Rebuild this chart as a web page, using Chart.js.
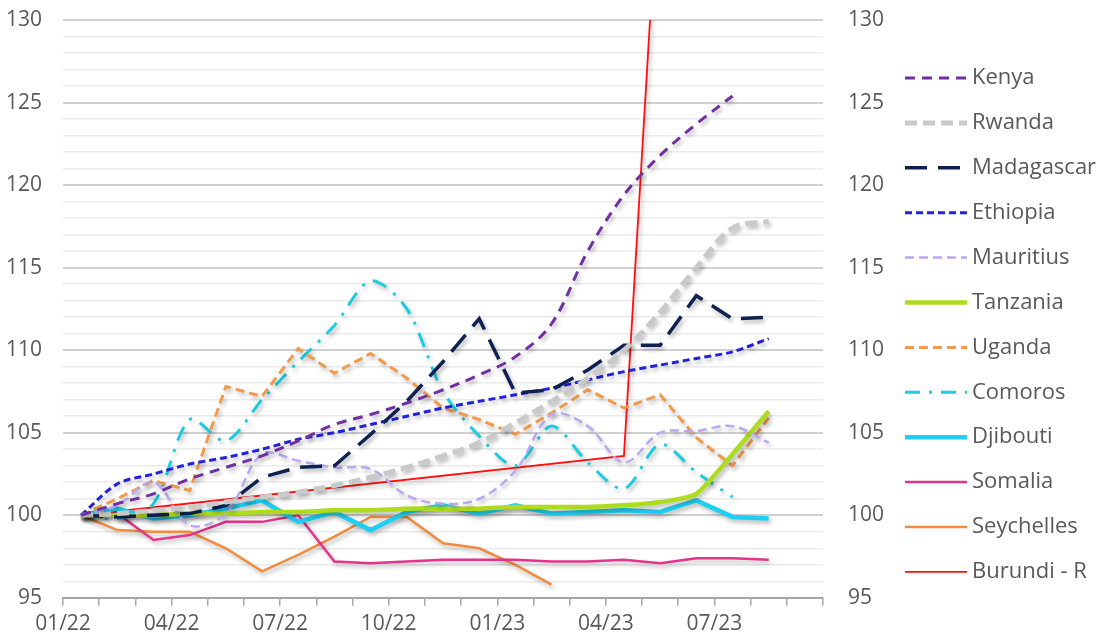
<!DOCTYPE html>
<html>
<head>
<meta charset="utf-8">
<script src="https://cdn.jsdelivr.net/npm/chart.js@4.4.0/dist/chart.umd.min.js"></script>
<style>
  html, body { margin: 0; padding: 0; background: #fff; }
  #wrap { width: 1099px; height: 641px; }
</style>
</head>
<body>
<div id="wrap"><canvas id="cpiChart"></canvas></div>
<script>
// Months (one point per month, drawn mid-month)
const months = ['01/22','02/22','03/22','04/22','05/22','06/22','07/22','08/22','09/22','10/22','11/22','12/22',
                '01/23','02/23','03/23','04/23','05/23','06/23','07/23','08/23','09/23'];
const tickLabels = ['01/22','04/22','07/22','10/22','01/23','04/23','07/23'];

// Index values (01/22 = 100)
const kenya      = [100, 100.7, 101.3, 102.2, 102.9, 103.6, 104.5, 105.5, 106.1, 106.8, 107.6, 108.5, 109.6, 111.6, 116.0, 119.4, 121.8, 123.7, 125.4];
const rwanda     = [100, 100.1, 100.3, 100.5, 100.8, 101.1, 101.4, 101.8, 102.3, 102.9, 103.6, 104.4, 105.6, 106.9, 108.3, 110.0, 112.3, 115.0, 117.4, 117.8];
const madagascar = [100, 99.9, 100.0, 100.1, 100.6, 102.3, 102.9, 103.0, 104.9, 106.9, 109.3, 111.9, 107.4, 107.6, 108.8, 110.3, 110.3, 113.3, 111.9, 112.0];
const ethiopia   = [100, 101.9, 102.5, 103.1, 103.5, 104.0, 104.6, 105.0, 105.5, 106.0, 106.5, 106.9, 107.3, 107.7, 108.2, 108.7, 109.1, 109.5, 109.9, 110.7];
const mauritius  = [100, 100.6, 102.0, 99.4, 100.1, 103.7, 103.3, 102.9, 102.8, 101.2, 100.7, 101.0, 102.7, 106.1, 105.4, 103.2, 105.0, 105.1, 105.4, 104.4];
const tanzania   = [100, 100.0, 100.0, 100.1, 100.1, 100.2, 100.2, 100.3, 100.3, 100.4, 100.4, 100.4, 100.5, 100.5, 100.5, 100.6, 100.8, 101.3, 103.7, 106.3];
const uganda     = [100, 101.0, 102.1, 101.5, 107.8, 107.2, 110.1, 108.6, 109.8, 108.3, 106.5, 105.8, 104.9, 106.2, 107.6, 106.5, 107.3, 104.7, 103.0, 105.9];
const comoros    = [100, 99.8, 100.7, 105.8, 104.5, 107.0, 109.3, 111.5, 114.2, 112.5, 107.5, 104.8, 103.0, 105.4, 103.2, 101.6, 104.3, 102.6, 101.1];
const djibouti   = [100, 100.4, 99.8, 100.0, 100.4, 100.9, 99.6, 100.2, 99.1, 100.2, 100.6, 100.1, 100.6, 100.1, 100.2, 100.3, 100.2, 100.9, 99.9, 99.8];
const somalia    = [100, 100.1, 98.5, 98.8, 99.6, 99.6, 100.0, 97.2, 97.1, 97.2, 97.3, 97.3, 97.3, 97.2, 97.2, 97.3, 97.1, 97.4, 97.4, 97.3];
const seychelles = [100, 99.1, 99.0, 99.0, 98.0, 96.6, 97.6, 98.7, 99.9, 99.9, 98.3, 98.0, 97.0, 95.8];
const burundi    = [100, null, null, null, null, null, null, null, null, null, null, null, null, null, null, 103.6, 140.2];

// x position of each month = its index + 0.5 (points sit between the ticks)
function toPoints(values) {
    return values.map(function(v, i) { return { x: i + 0.5, y: v }; });
}

function series(label, values, color, width, dash, tension) {
    return {
        label: label,
        data: toPoints(values),
        borderColor: color,
        backgroundColor: color,
        borderWidth: width,
        borderDash: dash,
        tension: tension,
        pointRadius: 0,
        pointHoverRadius: 0,
        spanGaps: true,
        fill: false
    };
}

const font = "'Open Sans', 'Noto Sans', sans-serif";
const fontSize = 21;
const legendFontSize = 22;
const textColor = '#595959';

// Soft drop shadow under the lines, like the original
const lineShadow = {
    id: 'lineShadow',
    beforeDatasetDraw: function(chart) {
        const ctx = chart.ctx;
        ctx.save();
        ctx.shadowColor = 'rgba(0,0,0,0.28)';
        ctx.shadowBlur = 4;
        ctx.shadowOffsetX = 2;
        ctx.shadowOffsetY = 3;
    },
    afterDatasetDraw: function(chart) {
        chart.ctx.restore();
    }
};

// Legend drawn by hand so the line samples keep their dash patterns
const sideLegend = {
    id: 'sideLegend',
    afterDraw: function(chart) {
        const ctx = chart.ctx;
        const left = 905, sampleW = 62, top = 78, step = 44.9;
        ctx.save();
        chart.data.datasets.forEach(function(ds, i) {
            const y = top + i * step;
            ctx.beginPath();
            ctx.strokeStyle = ds.borderColor;
            ctx.lineWidth = ds.borderWidth;
            ctx.setLineDash(ds.borderDash || []);
            ctx.moveTo(left, y);
            ctx.lineTo(left + sampleW, y);
            ctx.stroke();
            ctx.setLineDash([]);
            ctx.fillStyle = textColor;
            ctx.font = legendFontSize + 'px ' + font;
            ctx.textBaseline = 'middle';
            ctx.textAlign = 'left';
            ctx.fillText(ds.label, left + sampleW + 5, y);
        });
        ctx.restore();
    }
};

// keep the value axes from reserving extra room above and below the plot
function fixAxis(width) {
    return function(scale) {
        scale.width = width;
        scale.paddingTop = 0;
        scale.paddingBottom = 0;
    };
}

const ctx = document.getElementById('cpiChart').getContext('2d');
const cpiChart = new Chart(ctx, {
    type: 'line',
    data: {
        datasets: [
            series('Kenya', kenya, '#7030A0', 3, [10, 7], 0.35),
            series('Rwanda', rwanda, '#C9C9C9', 5, [12, 6], 0.35),
            series('Madagascar', madagascar, '#0E2150', 3.5, [22, 11], 0),
            series('Ethiopia', ethiopia, '#2222DD', 3, [7, 4], 0.3),
            series('Mauritius', mauritius, '#B9A9F0', 2.5, [9, 5], 0.35),
            series('Tanzania', tanzania, '#AEDC1C', 4.5, [], 0.2),
            series('Uganda', uganda, '#F2994B', 3, [9, 5], 0),
            series('Comoros', comoros, '#1CCDE2', 3, [15, 9, 3, 9], 0.3),
            series('Djibouti', djibouti, '#1DCFF2', 4.5, [], 0),
            series('Somalia', somalia, '#E5338C', 2.5, [], 0),
            series('Seychelles', seychelles, '#F28C3C', 2.5, [], 0),
            series('Burundi - R', burundi, '#FF1010', 1.8, [], 0)
        ]
    },
    options: {
        responsive: true,
        maintainAspectRatio: false,
        animation: false,
        layout: { padding: { left: 0, right: 216, top: 20, bottom: -2 } },
        plugins: {
            tooltip: { enabled: false },
            legend: { display: false }
        },
        scales: {
            x: {
                type: 'linear',
                min: 0,
                max: 21,
                ticks: {
                    stepSize: 1,
                    autoSkip: false,
                    maxRotation: 0,
                    padding: 6,
                    color: textColor,
                    font: { family: font, size: fontSize },
                    callback: function(value) {
                        return (value % 3 === 0 && value / 3 < tickLabels.length) ? tickLabels[value / 3] : '';
                    }
                },
                grid: {
                    drawOnChartArea: false,
                    tickLength: 8,
                    color: '#A6A6A6',
                    lineWidth: 1.5
                },
                border: { color: '#A6A6A6', width: 2 }
            },
            y: {
                position: 'left',
                min: 95,
                max: 130,
                afterFit: fixAxis(63),
                ticks: {
                    stepSize: 1,
                    autoSkip: false,
                    padding: 21,
                    color: textColor,
                    font: { family: font, size: fontSize },
                    callback: function(value) { return value % 5 === 0 ? value : ''; }
                },
                grid: {
                    drawTicks: false,
                    color: function(c) { return c.tick.value % 5 === 0 ? '#D0D0D0' : '#EAEAEA'; },
                    lineWidth: function(c) { return c.tick.value % 5 === 0 ? 2 : 1.5; }
                },
                border: { display: false }
            },
            y2: {
                position: 'right',
                min: 95,
                max: 130,
                afterFit: fixAxis(60),
                ticks: {
                    stepSize: 1,
                    autoSkip: false,
                    padding: 25,
                    color: textColor,
                    font: { family: font, size: fontSize },
                    callback: function(value) { return value % 5 === 0 ? value : ''; }
                },
                grid: { drawOnChartArea: false, drawTicks: false },
                border: { display: false }
            }
        }
    },
    plugins: [lineShadow, sideLegend]
});
</script>
</body>
</html>
